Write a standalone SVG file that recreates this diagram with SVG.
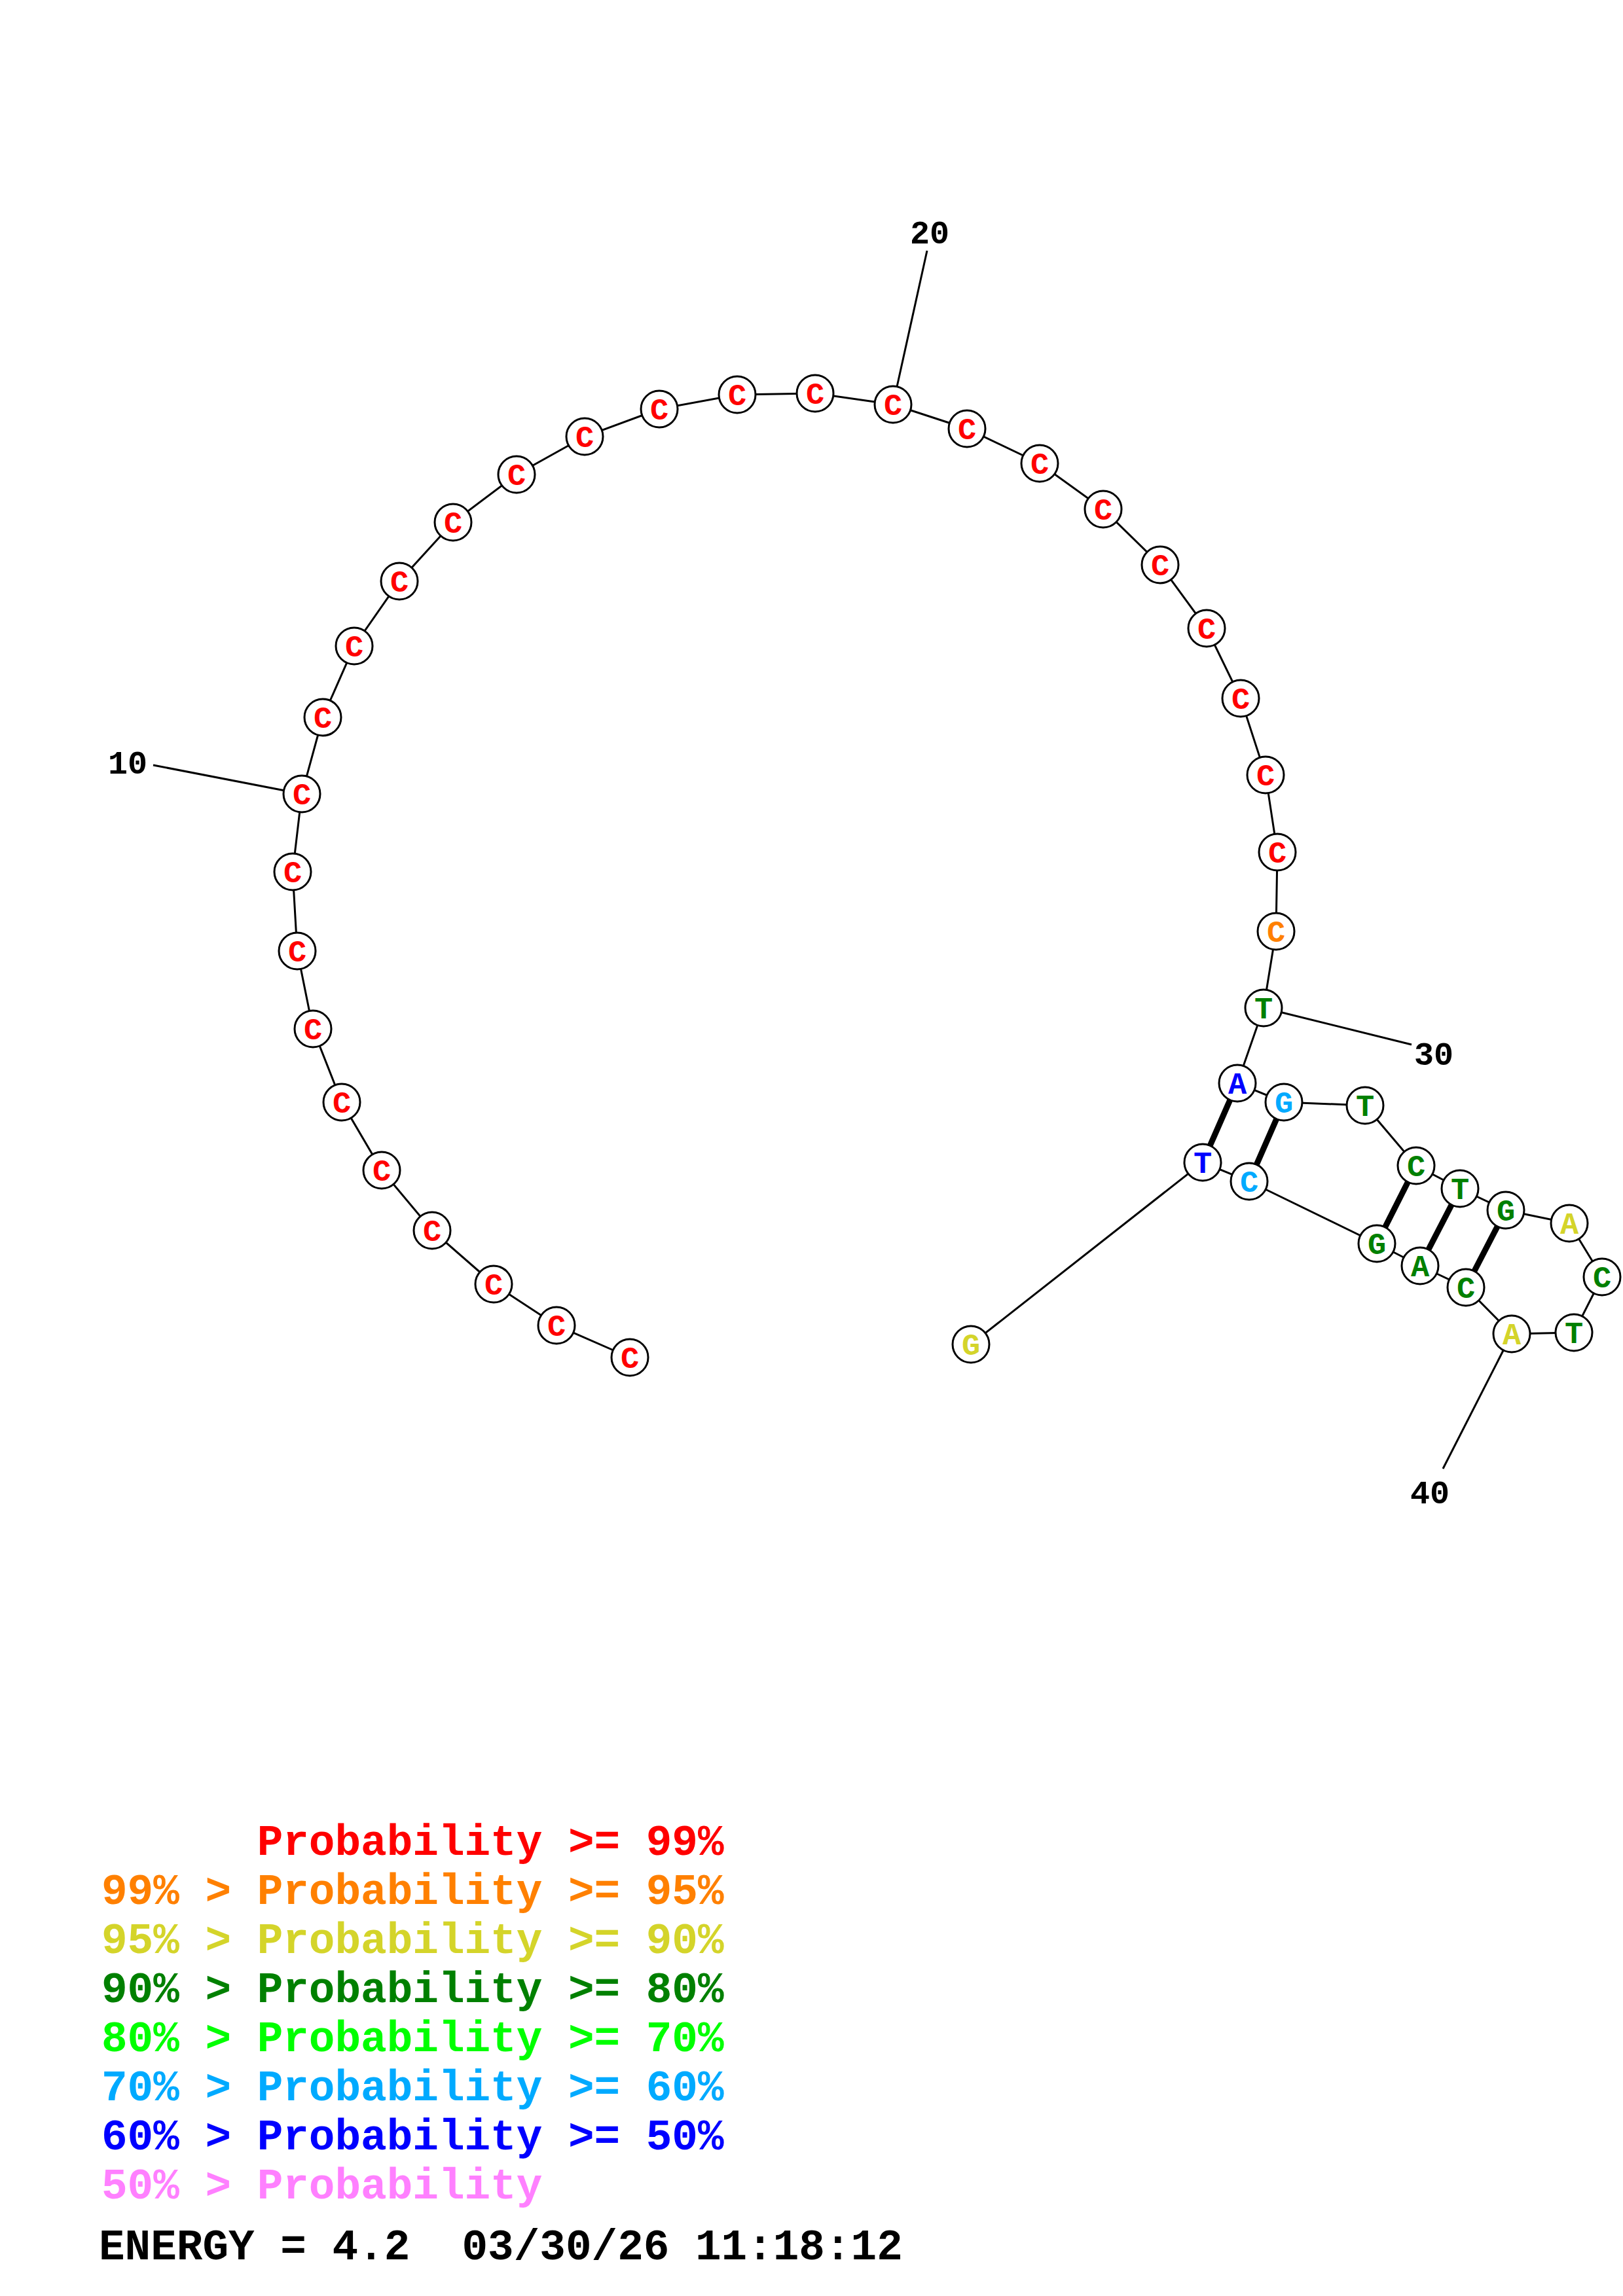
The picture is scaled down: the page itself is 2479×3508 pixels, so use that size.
<svg xmlns="http://www.w3.org/2000/svg" width="2479" height="3508" viewBox="0 0 2479 3508">
<style>
.bb{fill:none;stroke:#000;stroke-width:3}
.pr{stroke:#000;stroke-width:9;stroke-linecap:butt}
.n circle{fill:#fff;stroke:#000;stroke-width:3}
.n text{font-family:"Liberation Mono","DejaVu Sans Mono",monospace;font-weight:bold;font-size:47px;text-anchor:middle}
.lb{font-family:"Liberation Mono","DejaVu Sans Mono",monospace;font-weight:bold;font-size:50px;fill:#000;text-anchor:middle}
.lg{font-family:"Liberation Mono","DejaVu Sans Mono",monospace;font-weight:bold;font-size:66px;white-space:pre}
.r{fill:#ff0000}.o{fill:#ff8000}.y{fill:#d4d42a}.g{fill:#008000}.lgr{fill:#00ff00}.lb2{fill:#00aaff}.b{fill:#0000ff}.p{fill:#ff80ff}
</style>
<g id="connectors">
<polyline class="bb" points="962,2074 850,2025 754,1962 660,1880 583,1788 522,1684 478,1572 454,1453 447,1332 461,1213 493,1096 541,987 610,888 692,798 789,725 893,667 1007,625 1126,603 1245,601 1364,618 1477,655 1588,708 1685,778 1772,863 1843,960 1895,1067 1933,1184 1951,1302 1949,1423 1930,1540 1890,1655 1961,1684 2085,1689 2163,1781 2230,1816 2300,1849 2397,1869 2447,1951 2404,2036 2309,2038 2239,1967 2169,1934 2103,1900 1908,1805 1837,1776 1483,2054"/>
<line class="pr" x1="1890" y1="1655" x2="1837" y2="1776"/>
<line class="pr" x1="1961" y1="1684" x2="1908" y2="1805"/>
<line class="pr" x1="2163" y1="1781" x2="2103" y2="1900"/>
<line class="pr" x1="2230" y1="1816" x2="2169" y2="1934"/>
<line class="pr" x1="2300" y1="1849" x2="2239" y2="1967"/>
<line class="bb" x1="234" y1="1169" x2="461" y2="1213"/>
<line class="bb" x1="1416" y1="383" x2="1364" y2="618"/>
<line class="bb" x1="2156" y1="1596" x2="1930" y2="1540"/>
<line class="bb" x1="2204" y1="2244" x2="2309" y2="2038"/>
</g>
<g id="labels">
<text class="lb" x="195" y="1182">10</text>
<text class="lb" x="1420" y="372">20</text>
<text class="lb" x="2190" y="1627">30</text>
<text class="lb" x="2184" y="2297">40</text>
</g>
<g id="n1" class="n"><circle cx="962" cy="2074" r="28"/><text class="r" x="962" y="2090">C</text></g>
<g id="n2" class="n"><circle cx="850" cy="2025" r="28"/><text class="r" x="850" y="2041">C</text></g>
<g id="n3" class="n"><circle cx="754" cy="1962" r="28"/><text class="r" x="754" y="1978">C</text></g>
<g id="n4" class="n"><circle cx="660" cy="1880" r="28"/><text class="r" x="660" y="1896">C</text></g>
<g id="n5" class="n"><circle cx="583" cy="1788" r="28"/><text class="r" x="583" y="1804">C</text></g>
<g id="n6" class="n"><circle cx="522" cy="1684" r="28"/><text class="r" x="522" y="1700">C</text></g>
<g id="n7" class="n"><circle cx="478" cy="1572" r="28"/><text class="r" x="478" y="1588">C</text></g>
<g id="n8" class="n"><circle cx="454" cy="1453" r="28"/><text class="r" x="454" y="1469">C</text></g>
<g id="n9" class="n"><circle cx="447" cy="1332" r="28"/><text class="r" x="447" y="1348">C</text></g>
<g id="n10" class="n"><circle cx="461" cy="1213" r="28"/><text class="r" x="461" y="1229">C</text></g>
<g id="n11" class="n"><circle cx="493" cy="1096" r="28"/><text class="r" x="493" y="1112">C</text></g>
<g id="n12" class="n"><circle cx="541" cy="987" r="28"/><text class="r" x="541" y="1003">C</text></g>
<g id="n13" class="n"><circle cx="610" cy="888" r="28"/><text class="r" x="610" y="904">C</text></g>
<g id="n14" class="n"><circle cx="692" cy="798" r="28"/><text class="r" x="692" y="814">C</text></g>
<g id="n15" class="n"><circle cx="789" cy="725" r="28"/><text class="r" x="789" y="741">C</text></g>
<g id="n16" class="n"><circle cx="893" cy="667" r="28"/><text class="r" x="893" y="683">C</text></g>
<g id="n17" class="n"><circle cx="1007" cy="625" r="28"/><text class="r" x="1007" y="641">C</text></g>
<g id="n18" class="n"><circle cx="1126" cy="603" r="28"/><text class="r" x="1126" y="619">C</text></g>
<g id="n19" class="n"><circle cx="1245" cy="601" r="28"/><text class="r" x="1245" y="617">C</text></g>
<g id="n20" class="n"><circle cx="1364" cy="618" r="28"/><text class="r" x="1364" y="634">C</text></g>
<g id="n21" class="n"><circle cx="1477" cy="655" r="28"/><text class="r" x="1477" y="671">C</text></g>
<g id="n22" class="n"><circle cx="1588" cy="708" r="28"/><text class="r" x="1588" y="724">C</text></g>
<g id="n23" class="n"><circle cx="1685" cy="778" r="28"/><text class="r" x="1685" y="794">C</text></g>
<g id="n24" class="n"><circle cx="1772" cy="863" r="28"/><text class="r" x="1772" y="879">C</text></g>
<g id="n25" class="n"><circle cx="1843" cy="960" r="28"/><text class="r" x="1843" y="976">C</text></g>
<g id="n26" class="n"><circle cx="1895" cy="1067" r="28"/><text class="r" x="1895" y="1083">C</text></g>
<g id="n27" class="n"><circle cx="1933" cy="1184" r="28"/><text class="r" x="1933" y="1200">C</text></g>
<g id="n28" class="n"><circle cx="1951" cy="1302" r="28"/><text class="r" x="1951" y="1318">C</text></g>
<g id="n29" class="n"><circle cx="1949" cy="1423" r="28"/><text class="o" x="1949" y="1439">C</text></g>
<g id="n30" class="n"><circle cx="1930" cy="1540" r="28"/><text class="g" x="1930" y="1556">T</text></g>
<g id="n31" class="n"><circle cx="1890" cy="1655" r="28"/><text class="b" x="1890" y="1671">A</text></g>
<g id="n32" class="n"><circle cx="1961" cy="1684" r="28"/><text class="lb2" x="1961" y="1700">G</text></g>
<g id="n33" class="n"><circle cx="2085" cy="1689" r="28"/><text class="g" x="2085" y="1705">T</text></g>
<g id="n34" class="n"><circle cx="2163" cy="1781" r="28"/><text class="g" x="2163" y="1797">C</text></g>
<g id="n35" class="n"><circle cx="2230" cy="1816" r="28"/><text class="g" x="2230" y="1832">T</text></g>
<g id="n36" class="n"><circle cx="2300" cy="1849" r="28"/><text class="g" x="2300" y="1865">G</text></g>
<g id="n37" class="n"><circle cx="2397" cy="1869" r="28"/><text class="y" x="2397" y="1885">A</text></g>
<g id="n38" class="n"><circle cx="2447" cy="1951" r="28"/><text class="g" x="2447" y="1967">C</text></g>
<g id="n39" class="n"><circle cx="2404" cy="2036" r="28"/><text class="g" x="2404" y="2052">T</text></g>
<g id="n40" class="n"><circle cx="2309" cy="2038" r="28"/><text class="y" x="2309" y="2054">A</text></g>
<g id="n41" class="n"><circle cx="2239" cy="1967" r="28"/><text class="g" x="2239" y="1983">C</text></g>
<g id="n42" class="n"><circle cx="2169" cy="1934" r="28"/><text class="g" x="2169" y="1950">A</text></g>
<g id="n43" class="n"><circle cx="2103" cy="1900" r="28"/><text class="g" x="2103" y="1916">G</text></g>
<g id="n44" class="n"><circle cx="1908" cy="1805" r="28"/><text class="lb2" x="1908" y="1821">C</text></g>
<g id="n45" class="n"><circle cx="1837" cy="1776" r="28"/><text class="b" x="1837" y="1792">T</text></g>
<g id="n46" class="n"><circle cx="1483" cy="2054" r="28"/><text class="y" x="1483" y="2070">G</text></g>
<g id="legend">
<text class="lg r" x="155" y="2834">      Probability &gt;= 99%</text>
<text class="lg o" x="155" y="2909">99% &gt; Probability &gt;= 95%</text>
<text class="lg y" x="155" y="2984">95% &gt; Probability &gt;= 90%</text>
<text class="lg g" x="155" y="3059">90% &gt; Probability &gt;= 80%</text>
<text class="lg lgr" x="155" y="3134">80% &gt; Probability &gt;= 70%</text>
<text class="lg lb2" x="155" y="3209">70% &gt; Probability &gt;= 60%</text>
<text class="lg b" x="155" y="3284">60% &gt; Probability &gt;= 50%</text>
<text class="lg p" x="155" y="3359">50% &gt; Probability</text>
<text class="lg" x="151" y="3452" fill="#000">ENERGY = 4.2  03/30/26 11:18:12</text>
</g>
</svg>
